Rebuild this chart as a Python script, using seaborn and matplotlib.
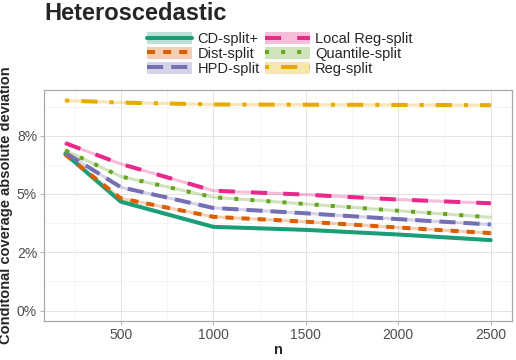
import matplotlib
matplotlib.use("Agg")
import matplotlib.pyplot as plt
from matplotlib.lines import Line2D
from matplotlib.patches import Patch
from matplotlib.legend_handler import HandlerTuple
from matplotlib.ticker import FixedLocator, FixedFormatter
import seaborn as sns
import pandas as pd

# Values
n_values = [200, 500, 1000, 1500, 2000, 2500]
methods = ["CD-split+", "Dist-split", "HPD-split", "Local Reg-split", "Quantile-split", "Reg-split"]
cd_split = [0.0672, 0.0467, 0.0359, 0.0346, 0.0326, 0.0302]
dist_split = [0.0669, 0.0481, 0.0402, 0.0381, 0.0356, 0.0332]
hpd_split = [0.0677, 0.0529, 0.0440, 0.0417, 0.0392, 0.0369]
local_reg_split = [0.0718, 0.0629, 0.0514, 0.0497, 0.0476, 0.0460]
quantile_split = [0.0687, 0.0575, 0.0486, 0.0457, 0.0428, 0.0400]
reg_split = [0.0901, 0.0892, 0.0884, 0.0883, 0.0882, 0.0881]

y_ticks = [0.0, 0.025, 0.05, 0.075]
y_tick_labels = ["0%", "2%", "5%", "8%"]
x_ticks = [500, 1000, 1500, 2000, 2500]

colors = ["#1B9E77", "#D95F02", "#7570B3", "#E7298A", "#66A61E", "#E6AB02"]
dash_styles = ["", (2, 2), (4, 2), (4, 4), (1, 3), (1, 3, 4, 3)]

series = [cd_split, dist_split, hpd_split, local_reg_split, quantile_split, reg_split]
df = pd.DataFrame({
    "n": n_values * len(methods),
    "dev": [v for s in series for v in s],
    "method": [m for m in methods for _ in n_values],
})

sns.set_theme(style="white")
plt.rcParams["font.family"] = ["Liberation Sans", "DejaVu Sans"]

fig = plt.figure(figsize=(5.16, 3.6), dpi=100)
ax = fig.add_axes([44 / 516, 39 / 360, 468 / 516, 231 / 360])

palette = dict(zip(methods, colors))
dashes = dict(zip(methods, dash_styles))

# pale band under each line
sns.lineplot(data=df, x="n", y="dev", hue="method", palette=palette,
             linewidth=2.2, alpha=0.3, legend=False, ax=ax, zorder=2)
sns.lineplot(data=df, x="n", y="dev", hue="method", style="method",
             palette=palette, dashes=dashes, linewidth=2.9,
             legend=False, ax=ax, zorder=3)

ax.set_xlim(85, 2615)
ax.set_ylim(-0.0045, 0.0946)
ax.xaxis.set_major_locator(FixedLocator(x_ticks))
ax.xaxis.set_minor_locator(FixedLocator([250, 750, 1250, 1750, 2250]))
ax.yaxis.set_major_locator(FixedLocator(y_ticks))
ax.yaxis.set_major_formatter(FixedFormatter(y_tick_labels))
ax.yaxis.set_minor_locator(FixedLocator([0.0125, 0.0375, 0.0625, 0.0875]))

ax.grid(which="major", color="#E3E3E3", linewidth=0.7)
ax.grid(which="minor", color="#F0F0F0", linewidth=0.5)
ax.set_axisbelow(True)
for sp in ax.spines.values():
    sp.set_color("#A8A8A8")
    sp.set_linewidth(0.9)
ax.tick_params(axis="both", which="major", length=3, width=0.6, color="#A8A8A8",
               labelsize=10, labelcolor="#4D4D4D", pad=2, left=True, bottom=True)
ax.tick_params(which="minor", length=0)

ax.set_xlabel("n", fontsize=10.5, fontweight="bold", labelpad=1)
ax.set_ylabel("Conditonal coverage absolute deviation", fontsize=10.5,
              fontweight="bold", labelpad=3)

fig.text(44 / 516, 1 - 2 / 360, "Heteroscedastic", fontsize=17,
         fontweight="bold", va="top", ha="left")

handles = []
for c, d in zip(colors, dash_styles):
    bg = Patch(facecolor=c, alpha=0.3, edgecolor="none")
    ln = Line2D([], [], color=c, linewidth=2.9, linestyle=(0, d) if d else "-")
    handles.append((bg, ln))
fig.legend(handles, methods, handler_map={tuple: HandlerTuple(ndivide=1, pad=0)},
           ncol=2, loc="upper left", bbox_to_anchor=(147 / 516, 1 - 32 / 360),
           frameon=False, fontsize=10.5, handlelength=3.1, handleheight=0.9,
           handletextpad=0.35, columnspacing=0.35, labelspacing=0.05,
           borderpad=0, borderaxespad=0)

fig.savefig("out.png", dpi=100)
